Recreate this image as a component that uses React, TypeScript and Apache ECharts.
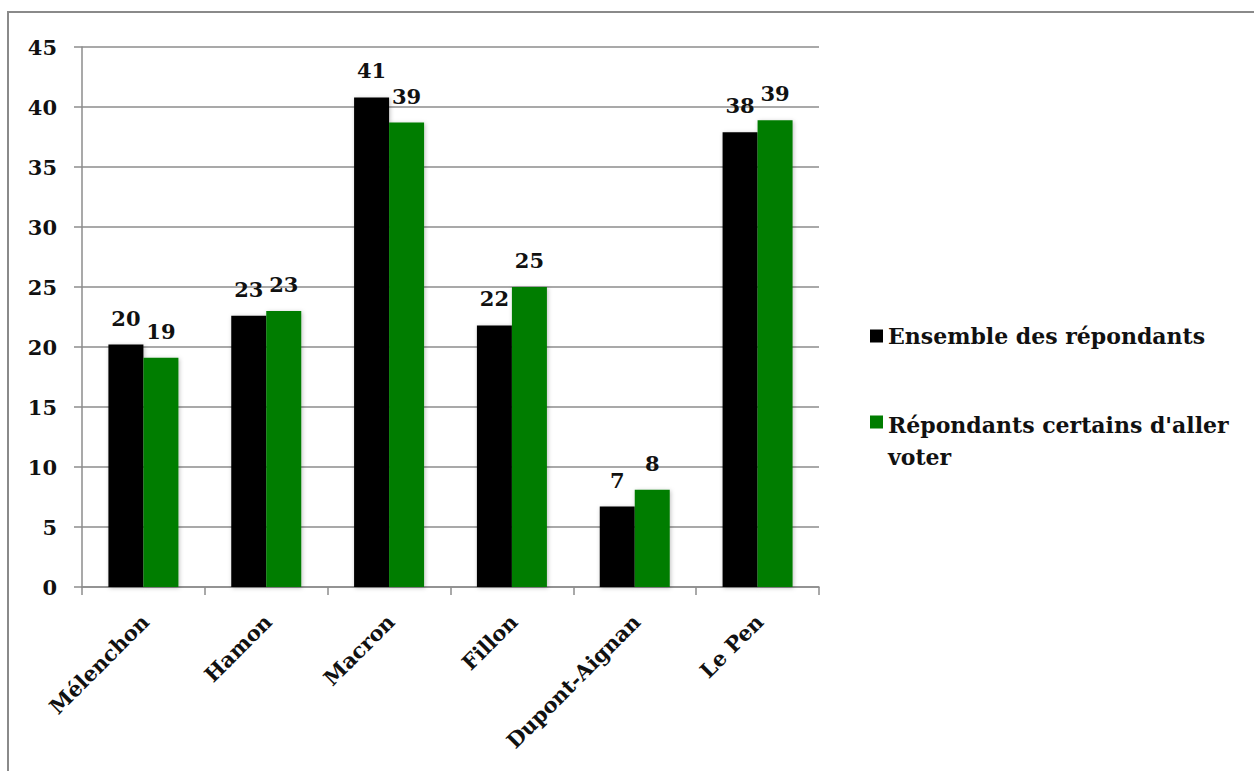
import React, { useEffect, useRef } from "react";
import * as echarts from "echarts";

// Candidates on the category axis
const categories = ["Mélenchon", "Hamon", "Macron", "Fillon", "Dupont-Aignan", "Le Pen"];

// Series names
const seriesNames = ["Ensemble des répondants", "Répondants certains d'aller voter"];

// Scores (%) for all respondents and for respondents certain to vote
const ensembleValues = [20.2, 22.6, 40.8, 21.8, 6.7, 37.9];
const certainsValues = [19.1, 23.0, 38.7, 25.0, 8.1, 38.9];

// Value axis range
const yMin = 0;
const yMax = 45;
const yStep = 5;

const FONT = "'DejaVu Serif', 'Liberation Serif', serif";
const FONT_SIZE = 21;
const LEGEND_FONT_SIZE = 22;
const TEXT_COLOR = "#111111";
const GRID_GRAY = "#8c8c8c";
const BLACK = "#000000";
const GREEN = "#007d00";

// Legend marker for the two-line entry: a 13px square at the top of a taller
// icon box, so the square sits beside the first line of text.
const TOP_SQUARE_ICON = "path://M0,0 L13,0 L13,13 L0,13 Z M0,51 L13,51";

export default function App() {
  const ref = useRef<HTMLDivElement>(null);

  useEffect(() => {
    if (!ref.current) return;
    const chart = echarts.init(ref.current, undefined, { renderer: "svg" });

    const labelStyle = {
      show: true,
      position: "top" as const,
      distance: 16,
      fontFamily: FONT,
      fontWeight: "bold" as const,
      fontSize: FONT_SIZE,
      color: TEXT_COLOR,
      formatter: (p: any) => String(Math.round(p.value)),
    };

    const barShadow = {
      shadowBlur: 4,
      shadowOffsetX: 1,
      shadowOffsetY: 1,
      shadowColor: "rgba(0,0,0,0.25)",
    };

    const legendText = {
      fontFamily: FONT,
      fontWeight: "bold" as const,
      fontSize: LEGEND_FONT_SIZE,
      color: TEXT_COLOR,
      lineHeight: 32,
    };

    chart.setOption({
      animation: false,
      backgroundColor: "#ffffff",
      graphic: [
        {
          type: "rect",
          shape: { x: 8, y: 12, width: 1300, height: 800 },
          style: { fill: "none", stroke: "#8a8a8a", lineWidth: 2 },
          silent: true,
          z: -10,
        },
      ],
      grid: { left: 82, top: 47, width: 737, height: 540, containLabel: false },
      legend: [
        {
          orient: "vertical",
          left: 870,
          top: 320,
          padding: 0,
          itemWidth: 13,
          itemHeight: 13,
          icon: "rect",
          data: [seriesNames[0]],
          textStyle: legendText,
        },
        {
          orient: "vertical",
          left: 870,
          top: 409,
          padding: 0,
          itemWidth: 13,
          itemHeight: 51,
          icon: TOP_SQUARE_ICON,
          data: [seriesNames[1]],
          formatter: (name: string) => name.replace(" d'aller ", " d'aller\n"),
          textStyle: legendText,
        },
      ],
      xAxis: {
        type: "category",
        data: categories,
        axisLine: { show: true, lineStyle: { color: GRID_GRAY, width: 1.5 } },
        axisTick: { show: true, length: 8, lineStyle: { color: GRID_GRAY, width: 1.5 } },
        axisLabel: {
          interval: 0,
          rotate: 45,
          margin: 18,
          padding: [0, 8, 0, 0],
          verticalAlign: "top",
          fontFamily: FONT,
          fontWeight: "bold",
          fontSize: FONT_SIZE,
          color: TEXT_COLOR,
        },
      },
      yAxis: {
        type: "value",
        min: yMin,
        max: yMax,
        interval: yStep,
        axisLine: { show: true, lineStyle: { color: GRID_GRAY, width: 1.5 } },
        axisTick: { show: true, length: 8, lineStyle: { color: GRID_GRAY, width: 1.5 } },
        splitLine: { show: true, lineStyle: { color: GRID_GRAY, width: 1.5 } },
        axisLabel: {
          margin: 25,
          fontFamily: FONT,
          fontWeight: "bold",
          fontSize: FONT_SIZE,
          color: TEXT_COLOR,
        },
      },
      series: [
        {
          name: seriesNames[0],
          type: "bar",
          data: ensembleValues,
          barWidth: 35,
          barGap: "0%",
          itemStyle: { color: BLACK, ...barShadow },
          label: labelStyle,
        },
        {
          name: seriesNames[1],
          type: "bar",
          data: certainsValues,
          barWidth: 35,
          barGap: "0%",
          itemStyle: { color: GREEN, ...barShadow },
          label: labelStyle,
        },
      ],
    });

    return () => chart.dispose();
  }, []);

  return (
    <div
      ref={ref}
      style={{ position: "fixed", left: 0, top: 0, width: 1254, height: 771, background: "#fff" }}
    />
  );
}
